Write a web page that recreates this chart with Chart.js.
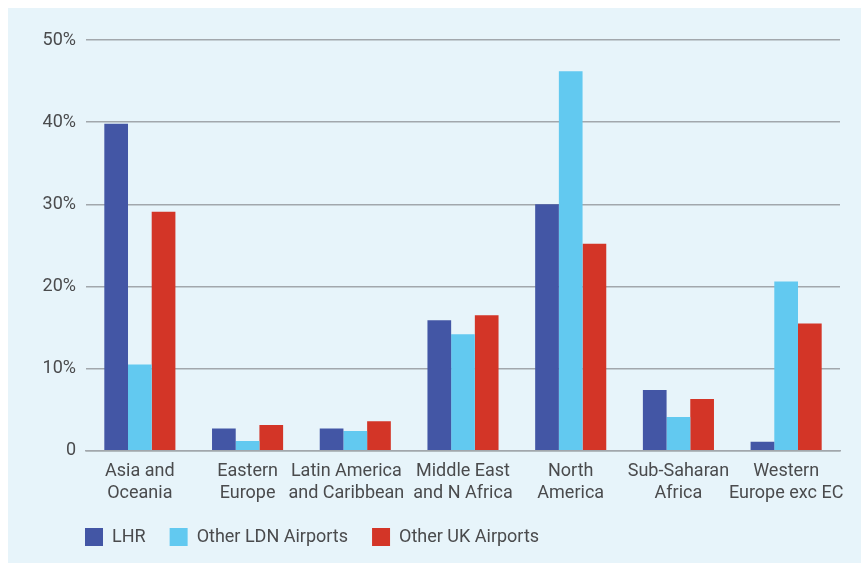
<!DOCTYPE html>
<html>
<head>
<meta charset="utf-8">
<script src="https://cdn.jsdelivr.net/npm/chart.js@4/dist/chart.umd.min.js"></script>
<style>
  html, body { margin: 0; padding: 0; background: #ffffff; }
  #wrap {
    position: absolute;
    left: 8px;
    top: 8px;
    width: 853px;
    height: 555px;
    background: #e7f4fa;
  }
</style>
</head>
<body>
<div id="wrap"><canvas id="myChart"></canvas></div>
<script>
// Regiões de destino e participação por aeroporto (%)
const NB = '\u00a0\u00a0\u00a0\u00a0'
const regions = [
  ['Asia and', 'Oceania'],
  ['Eastern', 'Europe'],
  ['Latin America' + NB, 'and Caribbean' + NB],
  ['Middle East', 'and N Africa'],
  ['North', 'America'],
  ['Sub-Saharan', 'Africa'],
  ['Western', 'Europe exc EC']
]
const lhr = [39.8, 2.7, 2.7, 15.9, 30.0, 7.4, 1.1]
const otherLdn = [10.5, 1.2, 2.4, 14.2, 46.2, 4.1, 20.6]
const otherUk = [29.1, 3.15, 3.6, 16.5, 25.2, 6.3, 15.5]

const seriesNames = ['LHR', 'Other LDN Airports', 'Other UK Airports']
const yTicks = [0, 10, 20, 30, 40, 50]

const textColor = '#4a4b4d'
const gridColor = '#a2a7ac'

Chart.defaults.font.family = 'Roboto, "Open Sans", sans-serif'
Chart.defaults.font.size = 18
Chart.defaults.color = textColor

const ctx = document.getElementById('myChart').getContext('2d')
ctx.letterSpacing = '0.5px'

// a legenda começa alinhada com a área do gráfico, um pouco mais perto dos rótulos
const legendAlign = {
  id: 'legendAlign',
  afterLayout(chart) {
    const lg = chart.legend
    const pad = lg.options.labels.padding
    const w = lg.width
    const h = lg.height
    lg.left = chart.chartArea.left - pad - 1
    lg.right = lg.left + w
    lg.top = lg.top - 10
    lg.bottom = lg.top + h
  }
}

new Chart(ctx, {
  type: 'bar',
  data: {
    labels: regions,
    datasets: [
      { label: seriesNames[0], data: lhr, backgroundColor: '#4356a5' },
      { label: seriesNames[1], data: otherLdn, backgroundColor: '#62c9f0' },
      { label: seriesNames[2], data: otherUk, backgroundColor: '#d33527' }
    ]
  },
  plugins: [legendAlign],
  options: {
    responsive: true,
    maintainAspectRatio: false,
    animation: false,
    layout: {
      padding: { left: 20, right: 21, top: 32, bottom: 0 }
    },
    datasets: {
      bar: { categoryPercentage: 0.66, barPercentage: 1.0 }
    },
    plugins: {
      tooltip: { enabled: false },
      legend: {
        position: 'bottom',
        align: 'start',
        maxHeight: 49,
        labels: {
          boxWidth: 18,
          boxHeight: 18,
          padding: 24,
          color: textColor,
          font: { size: 18 }
        }
      }
    },
    scales: {
      x: {
        grid: { display: false, drawTicks: false },
        border: { display: true, color: gridColor, width: 1.5 },
        ticks: { color: textColor, padding: 10, maxRotation: 0, autoSkip: false }
      },
      y: {
        min: 0,
        max: 50,
        afterBuildTicks: scale => {
          scale.ticks = yTicks.map(v => ({ value: v }))
        },
        afterFit: scale => {
          scale.width = 58
        },
        grid: { color: gridColor, lineWidth: 1.5, drawTicks: false },
        border: { display: false },
        ticks: {
          color: textColor,
          padding: 10,
          callback: v => (v === 0 ? '0' : v + '%')
        }
      }
    }
  }
})
</script>
</body>
</html>
